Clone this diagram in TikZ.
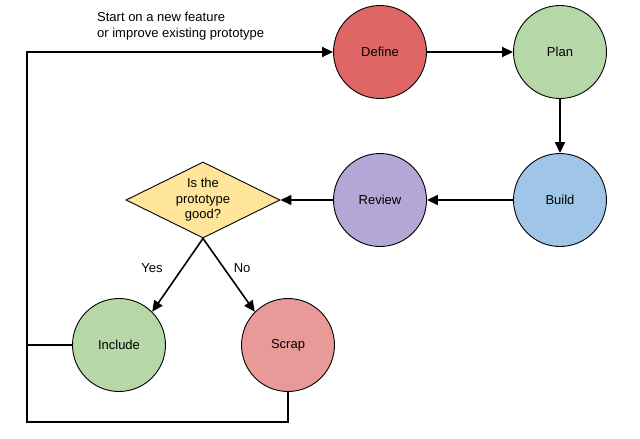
\documentclass[tikz,border=0pt]{standalone}
\usepackage{fontspec}
\setmainfont{Liberation Sans}
\usetikzlibrary{shapes.geometric,arrows.meta}

\definecolor{defred}{HTML}{E06666}
\definecolor{plangreen}{HTML}{B6D7A8}
\definecolor{buildblue}{HTML}{9FC5E8}
\definecolor{reviewpurple}{HTML}{B4A7D6}
\definecolor{askyellow}{HTML}{FFE599}
\definecolor{scrapred}{HTML}{EA9999}

\begin{document}
\begin{tikzpicture}[x=1pt,y=-1pt,node distance=180pt,
	font=\fontsize{13}{15.6}\selectfont,
	stage/.style={draw,circle,line width=0.9pt,minimum size=93pt,inner sep=0pt},
	flow/.style={line width=1.6pt,-{Triangle[length=11pt,width=10pt]}}]
			\useasboundingbox (0,0) rectangle (640,439);

			\node (define) [stage,fill=defred] at (380,52) {Define};
			\node (plan) [right of=define,stage,fill=plangreen] {Plan};
			\node (build) [below of=plan,node distance=148pt,stage,fill=buildblue] {Build};
			\node (review) [left of=build,stage,fill=reviewpurple] {Review};
			\node (decision) [left of=review,node distance=177pt,draw,diamond,line width=0.9pt,fill=askyellow,aspect=2,minimum width=154pt,minimum height=76pt,inner sep=0pt,align=center] {Is the\\prototype\\good?};
			\node (include) [stage,fill=plangreen] at (119,345) {Include};
			\node (scrap) [stage,fill=scrapred] at (288,345) {Scrap};

			\node (note) [anchor=north west,inner sep=0pt,align=left] at (97,12) {Start on a new feature\\or improve existing prototype};

			\coordinate (loopcorner) at (27,422);

			\draw [flow] (define) -- (plan);
			\draw [flow] (plan) -- (build);
			\draw [flow] (build) -- (review);
			\draw [flow] (review) -- (decision);
			\draw [flow] (decision.south) -- node [pos=0.4,left=16pt] {Yes} (include.45);
			\draw [flow] (decision.south) -- node [pos=0.4,right=6pt] {No} (scrap.135);

			\draw [flow] (scrap.south) |- (loopcorner) |- (define.west);
			\draw [line width=1.6pt] (include.west) -- (include.west -| loopcorner);

		\end{tikzpicture}
\end{document}
